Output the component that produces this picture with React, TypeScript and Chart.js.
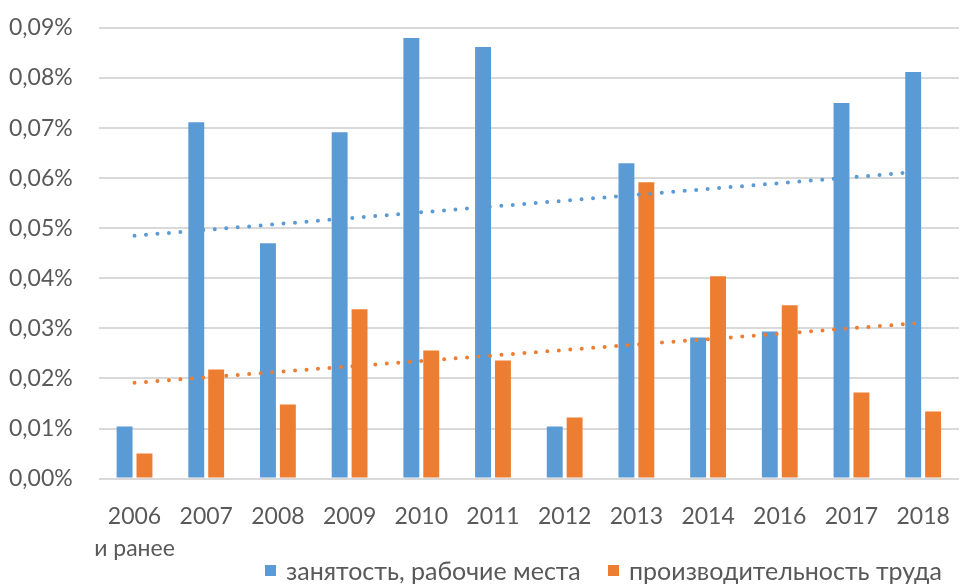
import React, { useEffect, useRef } from "react";
import { Chart, registerables } from "chart.js";

Chart.register(...registerables);

const categories: (string | string[])[] = [
  ["2006", "и ранее"], "2007", "2008", "2009", "2010", "2011", "2012", "2013", "2014", "2016", "2017", "2018",
];
// values in percent
const employment = [0.0104, 0.0712, 0.047, 0.0692, 0.088, 0.0862, 0.0104, 0.063, 0.0282, 0.0294, 0.075, 0.0812];
const productivity = [0.005, 0.0218, 0.0148, 0.0338, 0.0256, 0.0236, 0.0122, 0.0592, 0.0404, 0.0346, 0.0172, 0.0134];
const seriesNames = ["занятость, рабочие места", "производительность труда"];
const yTicks = [0, 0.01, 0.02, 0.03, 0.04, 0.05, 0.06, 0.07, 0.08, 0.09];

const BLUE = "#5B9BD5";
const ORANGE = "#ED7D31";
const TEXT = "#595959";
const FONT = "Lato";

// linear (least squares) trendline of a series, as Excel draws it
function trend(values: number[]): number[] {
  const n = values.length;
  const xs = values.map((_, i) => i + 1);
  const mx = xs.reduce((a, b) => a + b, 0) / n;
  const my = values.reduce((a, b) => a + b, 0) / n;
  let sxy = 0;
  let sxx = 0;
  for (let i = 0; i < n; i++) {
    sxy += (xs[i] - mx) * (values[i] - my);
    sxx += (xs[i] - mx) * (xs[i] - mx);
  }
  const slope = sxy / sxx;
  return xs.map((x) => my + slope * (x - mx));
}

export default function App() {
  const ref = useRef<HTMLCanvasElement | null>(null);
  useEffect(() => {
    let chart: Chart | null = null;
    let cancelled = false;
    const build = () => {
      if (cancelled || !ref.current) return;
      const trendStyle = {
        type: "line",
        borderWidth: 4,
        borderDash: [0, 11.5],
        borderCapStyle: "round",
        pointRadius: 0,
        fill: false,
        order: 0,
      };
      chart = new Chart(ref.current, {
        type: "bar",
        data: {
          labels: categories,
          datasets: [
            { ...trendStyle, label: "trend1", data: trend(employment), borderColor: BLUE } as any,
            { ...trendStyle, label: "trend2", data: trend(productivity), borderColor: ORANGE } as any,
            {
              label: seriesNames[0],
              data: employment,
              backgroundColor: BLUE,
              categoryPercentage: 0.555,
              barPercentage: 0.8,
              order: 1,
            },
            {
              label: seriesNames[1],
              data: productivity,
              backgroundColor: ORANGE,
              categoryPercentage: 0.555,
              barPercentage: 0.8,
              order: 1,
            },
          ],
        },
        options: {
          animation: false,
          responsive: true,
          maintainAspectRatio: false,
          layout: { padding: { top: 28, right: 14, left: 9, bottom: 23 } },
          plugins: {
            tooltip: { enabled: false },
            legend: { display: false },
          },
          scales: {
            x: {
              grid: {
                display: true,
                drawOnChartArea: false,
                drawTicks: true,
                tickLength: 22,
                color: "rgba(0,0,0,0)",
              },
              border: { display: false },
              ticks: {
                color: TEXT,
                font: { family: FONT, size: 23, lineHeight: 1.4 },
                padding: 0,
                maxRotation: 0,
                autoSkip: false,
              },
            },
            y: {
              min: 0,
              max: 0.09,
              afterBuildTicks: (axis: any) => {
                axis.ticks = yTicks.map((v) => ({ value: v }));
              },
              grid: {
                color: "#D9D9D9",
                lineWidth: 2,
                drawTicks: true,
                tickLength: 26,
                tickColor: "rgba(0,0,0,0)",
              },
              border: { display: false },
              ticks: {
                color: TEXT,
                font: { family: FONT, size: 23 },
                padding: 0,
                callback: (v: any) => Number(v).toFixed(2).replace(".", ",") + "%",
              },
            },
          },
        },
      });
    };
    const fonts = (document as any).fonts;
    if (fonts && fonts.load) {
      Promise.all([fonts.load(`23px ${FONT}`), fonts.load(`25px ${FONT}`)])
        .catch(() => null)
        .then(build);
    } else {
      build();
    }
    return () => {
      cancelled = true;
      if (chart) chart.destroy();
    };
  }, []);
  const legendItem = (color: string, text: string, left: number) => (
    <div
      style={{
        position: "absolute",
        left,
        top: 555,
        height: 30,
        display: "flex",
        alignItems: "center",
        fontFamily: FONT,
        fontSize: 25,
        color: TEXT,
        whiteSpace: "nowrap",
      }}
    >
      <span style={{ display: "inline-block", width: 11, height: 11, background: color, marginRight: 10 }} />
      {text}
    </div>
  );
  return (
    <div style={{ position: "absolute", left: 0, top: 0, width: 973, height: 588, background: "#fff" }}>
      <canvas ref={ref} />
      {legendItem(BLUE, seriesNames[0], 265)}
      {legendItem(ORANGE, seriesNames[1], 608)}
    </div>
  );
}
